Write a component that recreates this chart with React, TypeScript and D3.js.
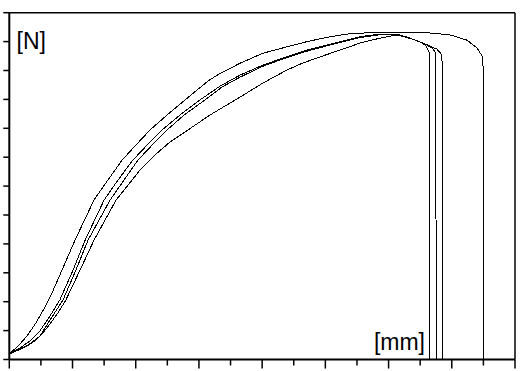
import { line, scaleLinear, range } from "d3";

// tensile test curves, force [N] vs elongation [mm]
const specimen1: [number, number][] = [
  [0, 19], [0.28, 47], [0.56, 81], [0.84, 126], [1.13, 182], [1.35, 230], [1.67, 310],
  [2.08, 413], [2.68, 552], [3.12, 621], [3.57, 690], [3.98, 739], [4.45, 794], [4.99, 846],
  [5.56, 898], [6.29, 964], [6.67, 990], [7.3, 1025], [8.03, 1060], [8.79, 1082], [9.42, 1100],
  [10.15, 1117], [10.69, 1126], [11.42, 1131], [12.27, 1130], [13.3, 1130], [13.95, 1123],
  [14.48, 1105], [14.8, 1078], [14.96, 1050], [14.99, 1012], [14.99, 0],
];
const specimen2: [number, number][] = [
  [0, 19], [0.34, 40], [0.65, 64], [0.97, 99], [1.29, 151], [1.6, 206], [2.02, 310],
  [2.4, 413], [3.0, 552], [3.44, 621], [3.91, 690], [4.36, 742], [4.83, 794], [5.4, 846],
  [6.03, 898], [6.67, 946], [7.3, 984], [8.03, 1019], [8.79, 1048], [9.42, 1071], [9.83, 1082],
  [10.47, 1100], [11.1, 1117], [11.73, 1126], [12.27, 1126], [12.68, 1112], [13.0, 1099],
  [13.19, 1085], [13.28, 1064], [13.28, 0],
];
const specimen3: [number, number][] = [
  [0, 19], [0.34, 36], [0.65, 54], [0.97, 81], [1.29, 137], [1.7, 206], [2.11, 310],
  [2.49, 413], [3.19, 552], [3.63, 621], [4.07, 690], [4.52, 742], [4.99, 794], [5.53, 846],
  [6.19, 898], [6.73, 943], [7.3, 977], [8.03, 1015], [8.79, 1045], [9.42, 1067], [9.83, 1079],
  [10.47, 1097], [11.1, 1114], [11.73, 1124], [12.27, 1124], [12.74, 1109], [13.09, 1095],
  [13.38, 1078], [13.49, 1061], [13.51, 0],
];
const specimen4: [number, number][] = [
  [0, 19], [0.5, 43], [0.81, 64], [1.03, 88], [1.19, 109], [1.54, 161], [1.79, 206],
  [2.24, 310], [2.68, 413], [3.38, 552], [3.76, 604], [4.14, 656], [4.61, 708], [5.09, 753],
  [5.65, 794], [6.35, 846], [6.67, 867], [7.3, 908], [8.03, 957], [8.79, 1002], [9.29, 1026],
  [9.83, 1047], [10.47, 1071], [11.1, 1095], [11.73, 1112], [12.27, 1123], [12.74, 1109],
  [13.15, 1092], [13.53, 1074], [13.69, 1054], [13.72, 0],
];

const series = [specimen1, specimen2, specimen3, specimen4];

const xMax = 16;
const yMax = 1200;
const xTicks = range(0, xMax + 1, 1);
const yTicks = range(0, yMax + 1, 100);
const yLabel = "[N]";
const xLabel = "[mm]";

export default function App() {
  const width = 526;
  const height = 371;
  const left = 9.3;
  const right = 515;
  const top = 12.7;
  const bottom = 359.5;

  const x = scaleLinear([0, xMax], [left, right]);
  const y = scaleLinear([0, yMax], [bottom, top]);

  const path = line<[number, number]>()
    .x((d) => x(d[0]))
    .y((d) => y(d[1]));

  return (
    <svg
      width={width}
      height={height}
      style={{ position: "absolute", left: 0, top: 0, background: "#fff" }}
      fontFamily="'Liberation Sans', Arial, sans-serif"
    >
      <rect width={width} height={height} fill="#fff" />
      {series.map((s, i) => (
        <path
          key={i}
          d={path(s) ?? ""}
          fill="none"
          stroke="#000"
          strokeWidth={1}
          shapeRendering="crispEdges"
        />
      ))}
      {/* frame */}
      <line x1={left} x2={left} y1={top} y2={bottom} stroke="#000" strokeWidth={2} />
      <line x1={left} x2={right} y1={bottom} y2={bottom} stroke="#000" strokeWidth={2} />
      <line x1={left} x2={right} y1={top} y2={top} stroke="#000" strokeWidth={1.5} />
      <line x1={right} x2={right} y1={top} y2={bottom} stroke="#000" strokeWidth={1.5} />
      {yTicks.map((t) => (
        <line key={"y" + t} x1={left - 6} x2={left} y1={y(t)} y2={y(t)} stroke="#000" strokeWidth={1.5} />
      ))}
      {xTicks.map((t) => (
        <line
          key={"x" + t}
          x1={x(t)}
          x2={x(t)}
          y1={bottom}
          y2={bottom + (t % 2 === 0 ? 9 : 6)}
          stroke="#000"
          strokeWidth={1.5}
        />
      ))}
      <text x={16.5} y={48.5} fontSize={23} fill="#000">
        {yLabel}
      </text>
      <text x={425} y={350} fontSize={23} fill="#000" textAnchor="end">
        {xLabel}
      </text>
    </svg>
  );
}
